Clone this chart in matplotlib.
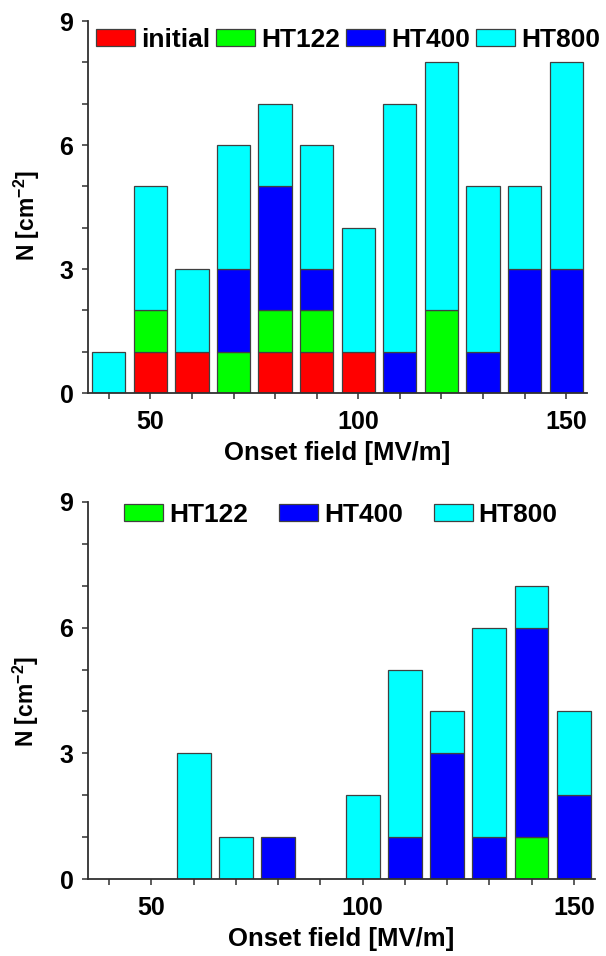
import matplotlib
matplotlib.use("Agg")
import matplotlib.pyplot as plt
from matplotlib.ticker import MultipleLocator, FixedLocator
import numpy as np

plt.rcParams['font.family'] = ['Liberation Sans', 'DejaVu Sans']
plt.rcParams['font.weight'] = 'bold'
plt.rcParams['mathtext.fontset'] = 'custom'
plt.rcParams['mathtext.rm'] = 'Liberation Sans:bold'
plt.rcParams['mathtext.bf'] = 'Liberation Sans:bold'
plt.rcParams['mathtext.default'] = 'rm'

# Top panel data
fields_top = [40, 50, 60, 70, 80, 90, 100, 110, 120, 130, 140, 150]
top_initial = [0, 1, 1, 0, 1, 1, 1, 0, 0, 0, 0, 0]
top_ht122 = [0, 1, 0, 1, 1, 1, 0, 0, 2, 0, 0, 0]
top_ht400 = [0, 0, 0, 2, 3, 1, 0, 1, 0, 1, 3, 3]
top_ht800 = [1, 3, 2, 3, 2, 3, 3, 6, 6, 4, 2, 5]

# Bottom panel data
fields_bot = [60, 70, 80, 100, 110, 120, 130, 140, 150]
bot_ht122 = [0, 0, 0, 0, 0, 0, 0, 1, 0]
bot_ht400 = [0, 0, 1, 0, 1, 3, 1, 5, 2]
bot_ht800 = [3, 1, 0, 2, 4, 1, 5, 1, 2]

colors = {'initial': '#ff0000', 'HT122': '#00ff00', 'HT400': '#0000ff', 'HT800': '#00ffff'}
edge = '#404040'
width = 8
FS = 18
LFS = 19
EM = LFS * 100 / 72.0

fig = plt.figure(figsize=(6.06, 9.56), dpi=100)
ax1 = fig.add_axes([0.1452, 0.5889, 0.8234, 0.3891])
ax2 = fig.add_axes([0.1452, 0.0805, 0.8366, 0.3944])

def stack(ax, x, series):
    bottom = np.zeros(len(x))
    for name, vals in series:
        vals = np.array(vals, dtype=float)
        mask = vals > 0
        ax.bar(np.array(x)[mask], vals[mask], width=width, bottom=bottom[mask],
               color=colors[name], edgecolor=edge, linewidth=0.9, label=name)
        bottom = bottom + vals

stack(ax1, fields_top, [('initial', top_initial), ('HT122', top_ht122),
                        ('HT400', top_ht400), ('HT800', top_ht800)])
stack(ax2, fields_bot, [('HT122', bot_ht122), ('HT400', bot_ht400), ('HT800', bot_ht800)])

for ax, ly in ((ax1, 0.476), (ax2, 0.472)):
    ax.set_xlim(35, 155)
    ax.set_ylim(0, 9)
    for s in ('top', 'right'):
        ax.spines[s].set_visible(False)
    for s in ('left', 'bottom'):
        ax.spines[s].set_color('#303030')
        ax.spines[s].set_linewidth(1.3)
    ax.xaxis.set_major_locator(FixedLocator([50, 100, 150]))
    ax.xaxis.set_minor_locator(FixedLocator([40, 60, 70, 80, 90, 110, 120, 130, 140]))
    ax.yaxis.set_major_locator(FixedLocator([0, 3, 6, 9]))
    ax.yaxis.set_minor_locator(MultipleLocator(1))
    ax.tick_params(which='both', direction='out', length=4.5, width=1.1, color='#303030')
    ax.tick_params(axis='both', which='major', labelsize=FS, pad=6)
    ax.tick_params(axis='x', which='major', pad=7.5)
    for lab in ax.get_xticklabels() + ax.get_yticklabels():
        lab.set_fontweight('bold')
    ax.set_xlabel('Onset field [MV/m]', fontsize=18.5, fontweight='bold', labelpad=5)
    ax.set_ylabel('N [cm$^{-2}$]', fontsize=16.5, fontweight='bold')
    ax.yaxis.set_label_coords(-0.092, ly)

leg_kw = dict(frameon=False, handlelength=39 / EM, handleheight=16 / EM, handletextpad=6 / EM,
              borderaxespad=0, borderpad=0, prop={'weight': 'bold', 'size': LFS},
              loc='center left', bbox_transform=fig.transFigure)
ax1.legend(ncol=4, columnspacing=6 / EM, bbox_to_anchor=(96 / 606, 1 - 40 / 956), **leg_kw)
ax2.legend(ncol=3, columnspacing=31 / EM, bbox_to_anchor=(124 / 606, 1 - 515 / 956), **leg_kw)

fig.savefig('out.png', dpi=100)
